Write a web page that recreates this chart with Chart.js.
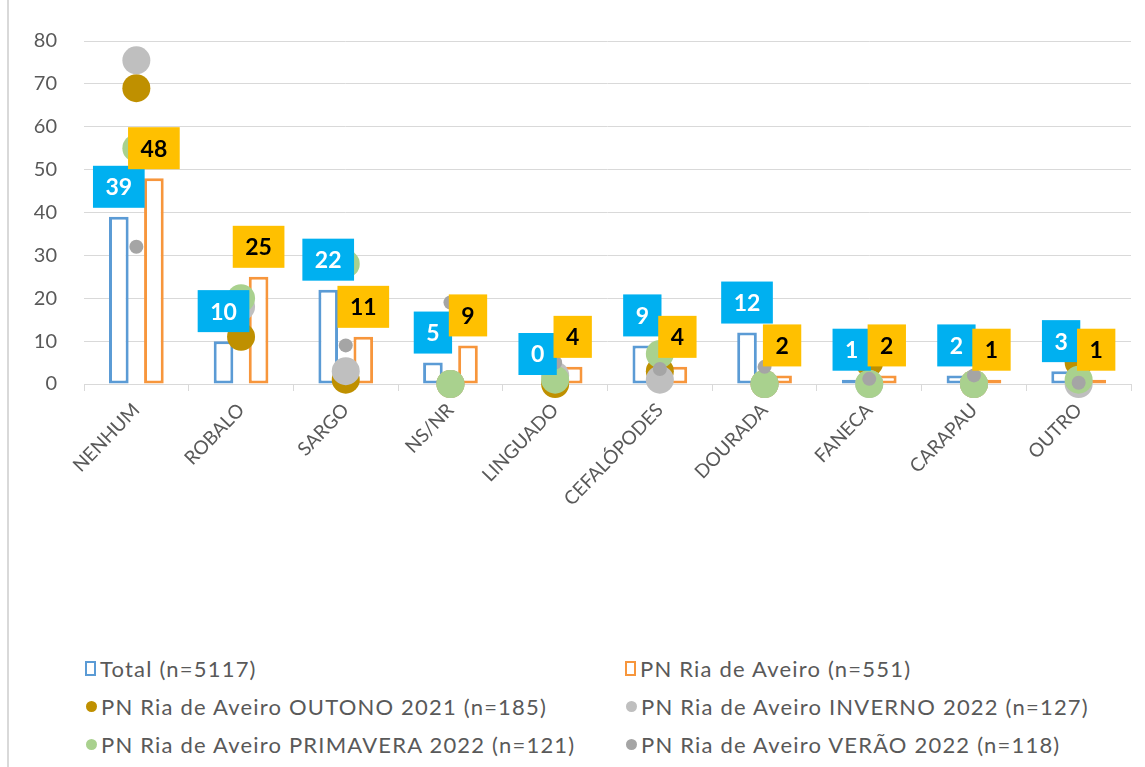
<!DOCTYPE html>
<html>
<head>
<meta charset="utf-8">
<script src="https://cdn.jsdelivr.net/npm/chart.js@4/dist/chart.umd.min.js"></script>
<style>
  html, body { margin: 0; padding: 0; background: #fff; }
  #wrap { position: relative; width: 1145px; height: 767px; overflow: hidden; }
  #edge { position: absolute; left: 7px; top: 0; width: 2px; height: 767px; background: #d9d9d9; }
  #box { position: absolute; left: 0; top: 0; width: 1145px; height: 540px; }
  #legend {
    position: absolute; left: 85px; top: 655px;
    display: grid; grid-template-columns: 540px 500px; row-gap: 12px;
    font-family: Lato, sans-serif; font-size: 22px; letter-spacing: 1.2px; color: #595959;
  }
  .item { display: flex; align-items: center; height: 26px; white-space: nowrap; }
  .sq { width: 7px; height: 11px; border: 2.5px solid; margin-right: 4px; background: #fff; }
  .dot { width: 11px; height: 11px; border-radius: 50%; margin-right: 4px; margin-left: 1px; }
</style>
</head>
<body>
<div id="wrap">
  <div id="edge"></div>
  <div id="box"><canvas id="grafico"></canvas></div>
  <div id="legend"></div>
</div>
<script>
// espécies
var categorias = ['NENHUM', 'ROBALO', 'SARGO', 'NS/NR', 'LINGUADO', 'CEFALÓPODES', 'DOURADA', 'FANECA', 'CARAPAU', 'OUTRO'];

// percentagens (barras)
var total = [39, 10, 22, 5, 0, 9, 12, 1, 2, 3];
var pnRia = [48, 25, 11, 9, 4, 4, 2, 2, 1, 1];

// percentagens por estação (pontos)
var outono = [69, 11, 1, 0, 0, 3, 0, 5, 0, 5];
var inverno = [75.5, 18, 3, 0, 2, 1, 0, 0, 0, 0];
var primavera = [55, 20, 28, 0, 1, 7, 0, 0, 0, 1];
var verao = [32, 16, 9, 19, 5, 3.5, 4, 1.2, 2, 0.3];

var ticksY = [0, 10, 20, 30, 40, 50, 60, 70, 80];

function pontos(label, dados, cor, raio, ordem) {
    return {
        type: 'line', label: label, data: dados, showLine: false,
        pointRadius: raio, pointHoverRadius: raio, pointBorderWidth: 0,
        backgroundColor: cor, borderColor: cor, order: ordem, clip: false
    };
}

// caixas com o valor por cima de cada barra
var etiquetas = {
    id: 'etiquetas',
    afterDatasetsDraw: function(chart) {
        var ctx = chart.ctx;
        var estilos = [
            { fundo: '#00b0f0', texto: '#ffffff' },
            { fundo: '#ffc000', texto: '#000000' }
        ];
        ctx.save();
        ctx.font = 'bold 23px Lato, sans-serif';
        ctx.textAlign = 'center';
        ctx.textBaseline = 'middle';
        [0, 1].forEach(function(i) {
            var meta = chart.getDatasetMeta(i);
            var dados = chart.data.datasets[i].data;
            meta.data.forEach(function(barra, j) {
                var txt = String(dados[j]);
                var w = ctx.measureText(txt).width + 25;
                var h = 42;
                var cy = barra.y - 30;
                ctx.fillStyle = estilos[i].fundo;
                ctx.fillRect(barra.x - w / 2, cy - h / 2, w, h);
                ctx.fillStyle = estilos[i].texto;
                ctx.fillText(txt, barra.x, cy + 1);
            });
        });
        ctx.restore();
    }
};

var ctx = document.getElementById('grafico').getContext('2d');
var chart = new Chart(ctx, {
    type: 'bar',
    data: {
        labels: categorias,
        datasets: [
            { label: 'Total (n=5117)', data: total, backgroundColor: '#ffffff', borderColor: '#5b9bd5',
              borderWidth: 3, borderSkipped: false, order: 4 },
            { label: 'PN Ria de Aveiro (n=551)', data: pnRia, backgroundColor: '#ffffff', borderColor: '#f7963c',
              borderWidth: 3, borderSkipped: false, order: 4 },
            pontos('PN Ria de Aveiro OUTONO 2021 (n=185)', outono, '#bf9000', 14, 3),
            pontos('PN Ria de Aveiro INVERNO 2022 (n=127)', inverno, '#bfbfbf', 14, 2),
            pontos('PN Ria de Aveiro PRIMAVERA 2022 (n=121)', primavera, '#a9d18e', 14, 1),
            pontos('PN Ria de Aveiro VERÃO 2022 (n=118)', verao, '#a5a5a5', 7, 0)
        ]
    },
    options: {
        responsive: true,
        maintainAspectRatio: false,
        animation: false,
        datasets: { bar: { categoryPercentage: 0.67, barPercentage: 0.56 } },
        layout: { padding: { top: 41, right: 14, left: 0, bottom: 0 } },
        plugins: { legend: { display: false }, tooltip: { enabled: false } },
        scales: {
            x: {
                offset: true,
                grid: { display: true, drawOnChartArea: false, drawTicks: true, tickLength: 7, color: '#d9d9d9', offset: true },
                border: { color: '#d9d9d9', width: 1 },
                ticks: { minRotation: 46, maxRotation: 46, padding: 8, color: '#595959', font: { family: 'Lato', size: 19 } },
                afterFit: function(s) { s.height = 156; }
            },
            y: {
                min: 0, max: 80,
                afterBuildTicks: function(s) { s.ticks = ticksY.map(function(v) { return { value: v }; }); },
                grid: { color: '#d9d9d9', drawTicks: false },
                border: { display: false },
                ticks: { padding: 27, color: '#595959', font: { family: 'Lato', size: 20 } },
                afterFit: function(s) { s.width = 84; }
            }
        }
    },
    plugins: [etiquetas]
});

// legenda em duas colunas
var leg = document.getElementById('legend');
chart.data.datasets.forEach(function(ds) {
    var item = document.createElement('div');
    item.className = 'item';
    var marca = document.createElement('span');
    if (ds.type === 'line') {
        marca.className = 'dot';
        marca.style.background = ds.backgroundColor;
    } else {
        marca.className = 'sq';
        marca.style.borderColor = ds.borderColor;
    }
    item.appendChild(marca);
    item.appendChild(document.createTextNode(ds.label));
    leg.appendChild(item);
});
</script>
</body>
</html>
